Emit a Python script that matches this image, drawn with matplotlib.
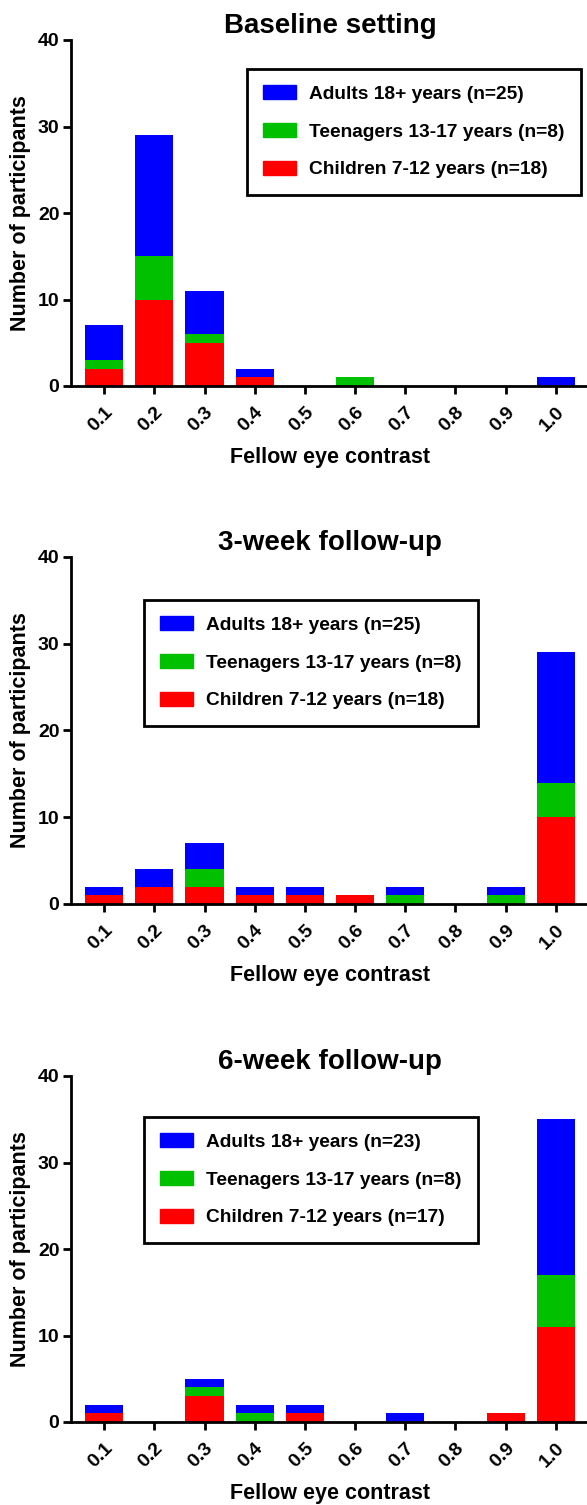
import numpy as np
import matplotlib
matplotlib.use("Agg")
import matplotlib.pyplot as plt
from matplotlib.patches import Patch

plt.rcParams['font.family'] = ['Liberation Sans', 'DejaVu Sans']
plt.rcParams['font.weight'] = 'bold'

contrast = ['0.1', '0.2', '0.3', '0.4', '0.5', '0.6', '0.7', '0.8', '0.9', '1.0']

# baseline
base_children = [2, 10, 5, 1, 0, 0, 0, 0, 0, 0]
base_teens = [1, 5, 1, 0, 0, 1, 0, 0, 0, 0]
base_adults = [4, 14, 5, 1, 0, 0, 0, 0, 0, 1]

# 3-week follow-up
wk3_children = [1, 2, 2, 1, 1, 1, 0, 0, 0, 10]
wk3_teens = [0, 0, 2, 0, 0, 0, 1, 0, 1, 4]
wk3_adults = [1, 2, 3, 1, 1, 0, 1, 0, 1, 15]

# 6-week follow-up
wk6_children = [1, 0, 3, 0, 1, 0, 0, 0, 1, 11]
wk6_teens = [0, 0, 1, 1, 0, 0, 0, 0, 0, 6]
wk6_adults = [1, 0, 1, 1, 1, 0, 1, 0, 0, 18]

titles = ['Baseline setting', '3-week follow-up', '6-week follow-up']
legend_labels = [
    ['Adults 18+ years (n=25)', 'Teenagers 13-17 years (n=8)', 'Children 7-12 years (n=18)'],
    ['Adults 18+ years (n=25)', 'Teenagers 13-17 years (n=8)', 'Children 7-12 years (n=18)'],
    ['Adults 18+ years (n=23)', 'Teenagers 13-17 years (n=8)', 'Children 7-12 years (n=17)'],
]
panels = [
    (base_children, base_teens, base_adults),
    (wk3_children, wk3_teens, wk3_adults),
    (wk6_children, wk6_teens, wk6_adults),
]

BLUE, GREEN, RED = '#0000ff', '#00c000', '#ff0000'

W, H = 587, 1505
fig = plt.figure(figsize=(W / 100, H / 100), dpi=100)

# axes boxes in pixels: (left, top, right, bottom)
boxes = [(70.5, 40, 587, 386), (70.5, 557, 587, 904), (70.5, 1076, 587, 1422)]
# legend top-left corners in pixels
leg_pos = [(247, 69), (144, 600), (144, 1117)]

x = np.arange(len(contrast))
x_lo, x_hi = -0.67, 9.62
for i, (kids, teens, adults) in enumerate(panels):
    l, t, r, b = boxes[i]
    ax = fig.add_axes([l / W, 1 - b / H, (r - l) / W, (b - t) / H])
    kids = np.array(kids)
    teens = np.array(teens)
    adults = np.array(adults)
    ax.bar(x, kids, width=0.76, color=RED)
    ax.bar(x, teens, width=0.76, bottom=kids, color=GREEN)
    ax.bar(x, adults, width=0.76, bottom=kids + teens, color=BLUE)

    ax.set_xlim(x_lo, x_hi)
    ax.set_ylim(0, 40)
    ax.set_yticks([0, 10, 20, 30, 40])
    ax.set_xticks(x)
    ax.set_xticklabels(contrast, rotation=45, ha='right', va='top',
                       rotation_mode='anchor', fontsize=14, fontweight='bold')
    ax.tick_params(axis='y', labelsize=14, width=2, length=6, pad=2)
    ax.tick_params(axis='x', width=2, length=6, pad=7)
    for lab in ax.get_yticklabels():
        lab.set_fontweight('bold')
    ax.spines['top'].set_visible(False)
    ax.spines['right'].set_visible(False)
    ax.spines['left'].set_linewidth(2)
    ax.spines['bottom'].set_linewidth(2)

    ax.set_title(titles[i], fontsize=20, fontweight='bold', pad=5,
                 x=(330 - l) / (r - l))
    ax.set_ylabel('Number of participants', fontsize=15.5, fontweight='bold')
    ax.yaxis.set_label_coords(-(l - 31) / (r - l), 0.5)
    ax.set_xlabel('Fellow eye contrast', fontsize=15.5, fontweight='bold')
    ax.xaxis.set_label_coords((4.5 - x_lo) / (x_hi - x_lo), -0.175)

    handles = [Patch(color=BLUE), Patch(color=GREEN), Patch(color=RED)]
    lx, ly = leg_pos[i]
    leg = ax.legend(handles, legend_labels[i], loc='upper left',
                    bbox_to_anchor=(lx / W, 1 - ly / H), bbox_transform=fig.transFigure,
                    fontsize=13.8, frameon=True, fancybox=False, framealpha=1,
                    handlelength=1.72, handleheight=0.74, handletextpad=0.68,
                    labelspacing=1.05, borderpad=0.85, borderaxespad=0)
    leg.get_frame().set_edgecolor('black')
    leg.get_frame().set_linewidth(2)
    for txt in leg.get_texts():
        txt.set_fontweight('bold')

fig.savefig('out.png', dpi=100)
